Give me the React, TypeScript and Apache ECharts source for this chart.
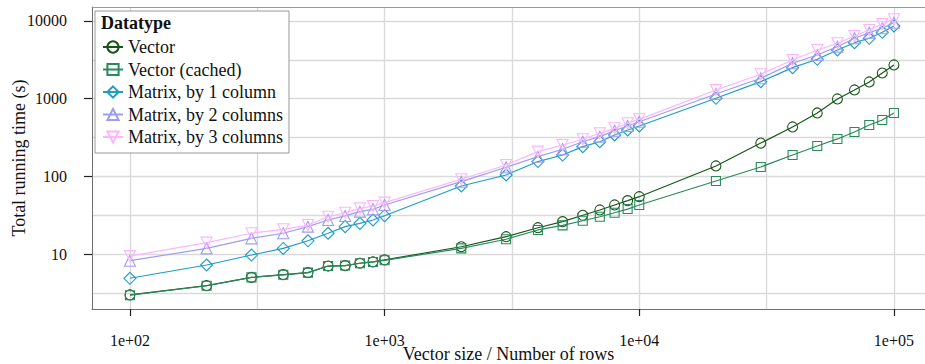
import React, { useEffect, useRef } from 'react';
import * as echarts from 'echarts';

const sizes = [100, 200, 300, 400, 500, 600, 700, 800, 900, 1000, 2000, 3000, 4000, 5000, 6000, 7000, 8000, 9000, 10000, 20000, 30000, 40000, 50000, 60000, 70000, 80000, 90000, 100000];

const vector = [2.97, 3.91, 5.0, 5.42, 5.75, 7.0, 7.08, 7.6, 7.9, 8.4, 12.4, 16.7, 21.8, 26.1, 31.5, 36.9, 42.8, 48.6, 54.7, 136, 268, 432, 654, 991, 1294, 1640, 2140, 2715];
const vectorCached = [2.95, 3.9, 5.0, 5.4, 5.75, 7.0, 7.1, 7.6, 7.9, 8.3, 11.8, 15.5, 20.4, 23.4, 26.8, 30.2, 34.0, 37.9, 42.8, 87, 132, 188, 246, 303, 372, 458, 531, 653];
const matrix1 = [4.87, 7.22, 9.7, 11.8, 14.8, 18.5, 22.5, 24.8, 27.4, 31.1, 75.1, 104, 155, 188, 241, 279, 341, 395, 445, 1011, 1655, 2506, 3214, 4233, 5256, 5987, 7155, 8625];
const matrix2 = [8.2, 11.8, 15.9, 18.5, 22.5, 27.4, 30.9, 35.1, 37.6, 42.8, 85.3, 131, 179, 223, 279, 324, 387, 445, 505, 1148, 1828, 2852, 3650, 4670, 5990, 7068, 8055, 9510];
const matrix3 = [9.4, 14.0, 18.5, 20.8, 23.6, 30.2, 34.0, 38.7, 41.5, 45.8, 91.6, 140, 208, 253, 300, 358, 415, 482, 542, 1294, 2061, 3146, 4233, 5164, 6411, 7657, 9147, 10520];

const seriesNames = ['Vector', 'Vector (cached)', 'Matrix, by 1 column', 'Matrix, by 2 columns', 'Matrix, by 3 columns'];
const seriesValues = [vector, vectorCached, matrix1, matrix2, matrix3];
const colors = ['#17561a', '#2a8a5c', '#1f9dc2', '#9d9df2', '#ffb3ff'];
const symbols = ['circle', 'rect', 'diamond', 'triangle', 'triangle'];
const rotates = [0, 0, 0, 0, 180];
const symbolSizes = [10, 9, 12, 11, 11];

const xTickValues = [2, 3, 4, 5];
const xTickLabels = ['1e+02', '1e+03', '1e+04', '1e+05'];
const yTickValues = [1, 2, 3, 4];
const yTickLabels = ['10', '100', '1000', '10000'];
const xGridValues = [2, 2.5, 3, 3.5, 4, 4.5, 5];
const yGridValues = [0.5, 1, 1.5, 2, 2.5, 3, 3.5, 4];

const X_MIN = 1.851;
const X_MAX = 5.122;
const Y_MIN = 0.292;
const Y_MAX = 4.18;

const FONT = '"Liberation Serif", "DejaVu Serif", Times, serif';

export default function App() {
  const ref = useRef<HTMLDivElement>(null);
  useEffect(() => {
    if (!ref.current) return;
    const chart = echarts.init(ref.current, undefined, { renderer: 'svg' });
    const gridLine = { show: true, lineStyle: { color: '#dadada', width: 1.4 } };
    const option: any = {
      animation: false,
      backgroundColor: '#ffffff',
      textStyle: { fontFamily: FONT },
      grid: { left: 92, right: 0, top: 7, bottom: 55, containLabel: false, outerBoundsMode: 'none' },
      xAxis: [
        {
          type: 'value', min: X_MIN, max: X_MAX, position: 'bottom',
          name: 'Vector size / Number of rows', nameLocation: 'middle', nameGap: 36, nameMoveOverlap: false,
          nameTextStyle: { fontFamily: FONT, fontSize: 18, color: '#111' },
          axisLine: { show: true, lineStyle: { color: '#6e6e6e', width: 1 } },
          axisTick: { show: true, customValues: xTickValues, length: 7, lineStyle: { color: '#222', width: 1.2 } },
          axisLabel: {
            customValues: xTickValues, margin: 23, fontFamily: FONT, fontSize: 16, color: '#111',
            formatter: (v: number) => xTickLabels[xTickValues.indexOf(Math.round(v))] ?? '',
          },
          splitLine: { show: false },
        },
        {
          type: 'value', min: X_MIN, max: X_MAX, position: 'top',
          axisLine: { show: true, lineStyle: { color: '#9a9a9a', width: 1 } },
          axisTick: { show: false, customValues: xGridValues },
          axisLabel: { show: false, customValues: xGridValues },
          splitLine: gridLine,
        },
      ],
      yAxis: [
        {
          type: 'value', min: Y_MIN, max: Y_MAX, position: 'left',
          name: 'Total running time (s)', nameLocation: 'middle', nameGap: 64, nameRotate: 90, nameMoveOverlap: false,
          nameTextStyle: { fontFamily: FONT, fontSize: 18, color: '#111' },
          axisLine: { show: true, lineStyle: { color: '#6e6e6e', width: 1 } },
          axisTick: { show: true, customValues: yTickValues, length: 8, lineStyle: { color: '#222', width: 1.2 } },
          axisLabel: {
            customValues: yTickValues, margin: 25, fontFamily: FONT, fontSize: 16, color: '#111',
            formatter: (v: number) => yTickLabels[yTickValues.indexOf(Math.round(v))] ?? '',
          },
          splitLine: { show: false },
        },
        {
          type: 'value', min: Y_MIN, max: Y_MAX, position: 'right',
          axisLine: { show: false },
          axisTick: { show: false, customValues: yGridValues },
          axisLabel: { show: false, customValues: yGridValues },
          splitLine: gridLine,
        },
      ],
      legend: {
        orient: 'vertical', left: 95, top: 11,
        padding: [27, 6, 7, 7],
        backgroundColor: '#ffffff', borderColor: '#9a9a9a', borderWidth: 1,
        itemWidth: 20, itemHeight: 14, itemGap: 4.5,
        textStyle: { fontFamily: FONT, fontSize: 18, color: '#111', lineHeight: 18 },
        data: seriesNames,
      },
      graphic: [
        {
          type: 'text', left: 101, top: 14, z: 100,
          style: { text: 'Datatype', fontFamily: FONT, fontSize: 18, fontWeight: 'bold', fill: '#111' },
        },
      ],
      series: seriesNames.map((name, i) => ({
        name,
        type: 'line',
        xAxisIndex: 0,
        yAxisIndex: 0,
        data: sizes.map((s, j) => [Math.log10(s), Math.log10(seriesValues[i][j])]),
        symbol: symbols[i],
        symbolRotate: rotates[i],
        symbolSize: symbolSizes[i],
        showAllSymbol: true,
        color: colors[i],
        lineStyle: { color: colors[i], width: 1.2 },
        itemStyle: { color: 'rgba(255,255,255,0)', borderColor: colors[i], borderWidth: 1.1 },
        z: 2 + i,
      })),
    };
    chart.setOption(option);
    return () => chart.dispose();
  }, []);
  return <div ref={ref} style={{ position: 'fixed', left: 0, top: 0, width: 925, height: 364 }} />;
}
